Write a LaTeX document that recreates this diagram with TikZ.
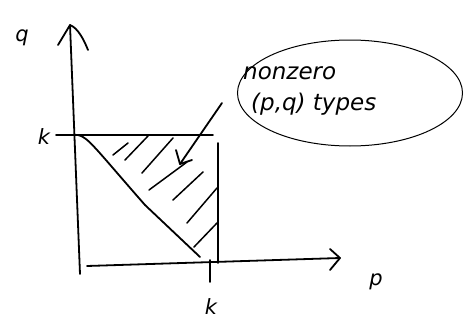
\documentclass[tikz,border=0pt]{standalone}
\usepackage{fontspec}
\setmainfont{DejaVu Sans}
\usetikzlibrary{calc,shapes.geometric}
\begin{document}
\begin{tikzpicture}[x=1pt,y=-1pt,
  ink/.style={line width=1.8pt,line cap=round,line join=round,black},
  thinink/.style={line width=1pt,black},
  hatch/.style={line width=1.5pt,line cap=round},
  lbl/.style={font=\fontsize{21}{23}\selectfont\itshape,inner sep=0pt},
  note/.style={font=\fontsize{23}{31}\selectfont\itshape,inner sep=0pt,align=left}]
\useasboundingbox (0,0) rectangle (475,327);
% coordinates
\coordinate (yb) at (80,274);
\coordinate (yt) at (70,25);
\coordinate (xl) at (87,266);
\coordinate (xr) at (340,258);
\coordinate (tl) at (56,135);
\coordinate (tr) at (213,135);
\coordinate (ds) at (78,135);
\coordinate (de) at (200,257);
\coordinate (rt) at (218,143);
\coordinate (rb) at (218,263);
\coordinate (tk1) at (210,260);
\coordinate (tk2) at (210,282);
\coordinate (as) at (222,103);
\coordinate (ae) at (180,164);
% axes
\draw[ink] (yb) -- (yt);
\draw[ink] ($(yt)+(-12,20)$) -- (yt) .. controls (78,28) and (84,40) .. (88,50);
\draw[ink] (xl) -- (xr);
\draw[ink] (330,249) -- (xr) -- (330,270);
% top line and right side
\draw[ink] (tl) -- (tr);
\draw[ink] (ds) .. controls (88,137) and (95,148) .. (145,205) -- (de);
\draw[ink] (rt) -- (rb);
\draw[ink] (tk1) -- (tk2);
% hatching
\draw[hatch] (113,155) -- (128,143);
\draw[hatch] (125,160) -- (148,136);
\draw[hatch] (142,173) -- (173,138);
\draw[hatch] (149,190) -- (187,162);
\draw[hatch] (173,200) -- (203,172);
\draw[hatch] (187,223) -- (217,188);
\draw[hatch] (194,247) -- (217,223);
% pointer arrow
\draw[ink] (as) -- (ae);
\draw[ink] (176,150) -- (ae) -- (192,160);
% ellipse
\node[draw,thinink,ellipse,minimum width=225pt,minimum height=106pt,inner sep=0pt] (ell) at (350,93) {};
\node[note,anchor=north west] (txt) at (243,66) {nonzero\\\hspace*{8pt}(p,q) types};
% labels
\node[lbl] (ql) at (22,38) {q};
\node[lbl] (kl) at (44,137) {k};
\node[lbl] (kb) at (211,307) {k};
\node[lbl] (pl) at (376,282) {p};
\end{tikzpicture}
\end{document}
